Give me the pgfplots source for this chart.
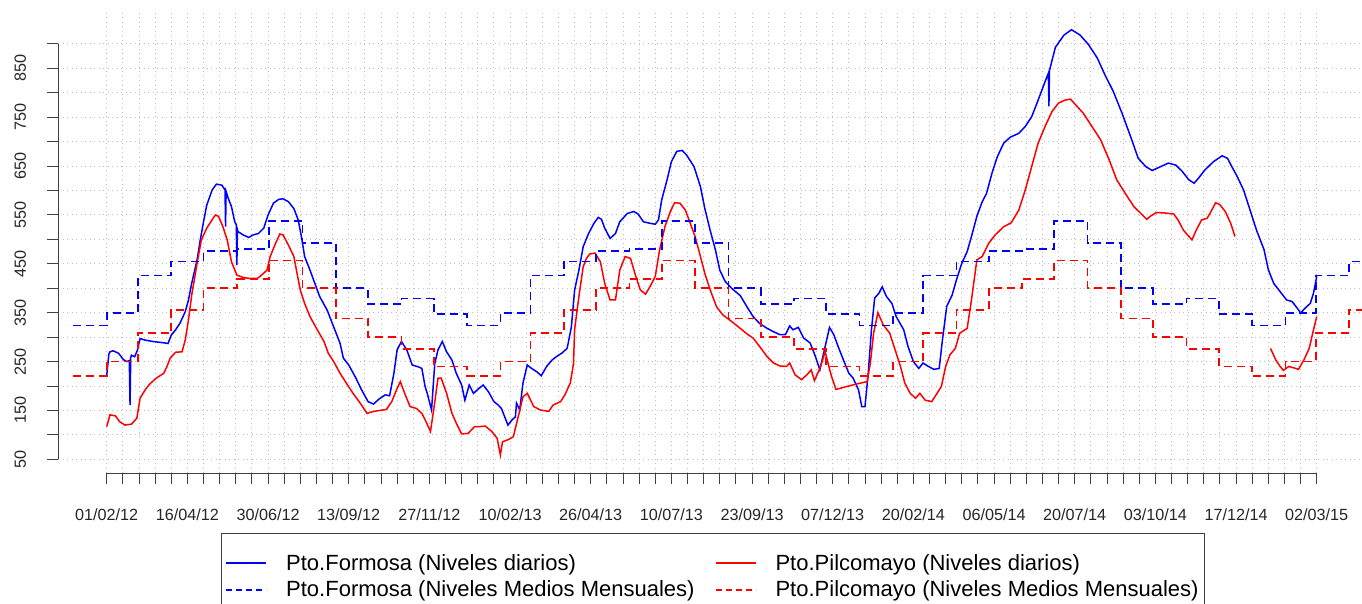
\documentclass[border=0pt]{standalone}
\usepackage{pgfplots}
\pgfplotsset{compat=1.18}
\usepackage{fontspec}
\setmainfont{Liberation Sans}
\begin{document}
\begin{tikzpicture}
\useasboundingbox (0,0) rectangle (1362pt,603pt);
\begin{axis}[
  at={(58pt,130pt)}, anchor=south west,
  scale only axis, width=1304pt, height=460pt,
  xmin=-45.3, xmax=1167.1, ymin=22, ymax=963.2,
  axis line style={draw=none},
  clip mode=individual,
  tick align=outside,
  major tick length=11pt,
  tick style={black!75, line width=0.9pt},
  xtick={0,15,...,1125},
  xticklabels={01/02/12,,,,,16/04/12,,,,,30/06/12,,,,,13/09/12,,,,,27/11/12,,,,,10/02/13,,,,,26/04/13,,,,,10/07/13,,,,,23/09/13,,,,,07/12/13,,,,,20/02/14,,,,,06/05/14,,,,,20/07/14,,,,,03/10/14,,,,,17/12/14,,,,,02/03/15},
  ytick={50,100,...,900},
  yticklabels={50,,150,,250,,350,,450,,550,,650,,750,,850,},
  xtick pos=bottom, ytick pos=left,
  grid=major,
  major grid style={black!25, line width=0.9pt, dash pattern=on 1pt off 3.5pt},
  xticklabel style={font=\fontsize{16.2}{19}\selectfont, text=black!85, anchor=base, inner sep=0pt, yshift=-36pt},
  yticklabel style={font=\fontsize{16.2}{19}\selectfont, text=black!85, xshift=-21pt, rotate=90, anchor=base, inner sep=0pt},
  legend columns=2,
  legend style={
    at={(0.1248,-0.1304)}, anchor=north west,
    draw=black!75, line width=0.9pt,
    font=\fontsize{22}{26}\selectfont,
    inner xsep=4pt, inner ysep=21pt,
    row sep=9pt,
    nodes={inner sep=0pt},
    /tikz/every odd column/.append style={column sep=19pt},
    /tikz/every even column/.append style={column sep=20pt},
    cells={anchor=west},
  },
]
% Pto.Formosa daily
\addplot[blue, line width=1.5pt,
  legend image code/.code={\draw[blue, line width=1.6pt] (0pt,0pt) -- (40pt,0pt);}] table[x=d, y=v] {
d v
0 222
2 265
3 270
6 272
11 267
15.5 254
18.6 250
21 252
21.7 161
22.3 258
23 263
26 260
28.5 273
31 297
35.6 294
43 291
51 289
57 287
60 304
64 315
68 328
73 352
76 376
79 410
84 458
87 499
90 536
93 570
98 601
102 613
107 611
110 601
110.5 526
111 598
113 584
116 567
119 536
120.5 530
121 448
121.5 520
122 516
127 509
132 504
136 509
141 512
146 523
150 550
155 574
160 582
164 583
169 577
174 563
178 540
181 506
184 465
189 437
194 407
198 383
205 355
211 321
217 287
220 257
225 243
231 219
237 192
243 168
248 163
253 173
259 182
263 180
267 226
270 274
274 291
279 274
284 243
290 239
293 236
296 199
298 185
302 151
305 246
308 274
312 291
316 270
321 253
325 226
330 202
333 171
337 202
341 185
346 195
350 202
355 188
360 168
364 161
367 154
370 137
373 120
377 131
380 137
381 165
384 151
387 206
391 243
395 236
400 229
404 221
409 240
414 253
418 260
423 267
428 277
429 287
432 321
435 396
439 437
443 485
448 512
453 533
457 545
460 541
463 523
468 502
473 512
477 536
484 553
490 557
494 552
499 536
505 533
510 531
513 540
516 581
521 622
525 659
530 680
535 682
539 673
546 649
552 608
556 564
561 519
566 478
570 437
575 414
581 400
589 385
595 363
601 342
607 328
614 318
620 311
626 305
631 305
635 323
638 315
643 320
648 298
654 288
659 260
663 233
668 281
672 320
676 305
680 281
685 253
690 226
694 216
699 192
702 158
705 158
708 226
711 315
714 380
718 390
721 403
725 383
730 369
734 342
741 315
745 281
750 250
755 236
759 247
764 240
769 234
774 236
777 294
781 363
786 386
790 417
795 451
800 475
804 506
809 547
814 577
818 594
823 635
828 669
834 697
840 709
848 717
854 731
860 751
866 785
873 826
875.5 840
876 772
876.5 845
879 867
882 893
890 918
897 929
905 918
913 898
921 871
928 837
936 802
944 758
952 710
959 666
966 649
972 641
980 649
987 656
994 652
1000 639
1006 622
1011 615
1015 625
1021 642
1029 659
1037 671
1042 666
1046 649
1051 629
1057 601
1063 560
1069 519
1076 479
1080 438
1085 410
1091 393
1097 376
1102 373
1107 359
1110 349
1114 359
1119 369
1122 390
1125 424
};
\addlegendentry{Pto.Formosa (Niveles diarios)}
% Pto.Pilcomayo daily
\addplot[red, line width=1.5pt, unbounded coords=jump,
  legend image code/.code={\draw[red, line width=1.6pt] (0pt,0pt) -- (40pt,0pt);}] table[x=d, y=v] {
d v
0 117
3 141
8 139
12 127
17 120
23 122
28 134
31 175
36 193
40 204
46 216
53 226
56 240
59 257
64 269
70 270
73 294
76 335
79 386
84 451
88 499
93 523
98 540
101 550
104 547
108 526
112 499
116 454
121 427
127 422
133 420
140 420
144 427
149 437
152 465
157 492
161 511
164 509
169 488
174 465
177 430
180 396
184 369
189 342
195 318
202 291
206 267
211 250
217 226
223 205
229 185
236 164
242 144
248 148
254 150
260 152
265 168
270 195
273 209
277 185
282 158
288 154
293 144
296 131
301 107
304 151
308 216
311 216
316 185
321 144
325 124
330 102
336 103
342 117
347 117
352 118
358 107
363 93
366 59
368 86
373 90
378 96
383 141
387 178
391 185
397 158
403 151
411 148
415 161
422 168
426 182
431 206
434 246
435 315
439 383
443 444
446 461
449 470
454 472
459 454
463 410
468 376
473 376
477 437
482 465
487 461
491 431
496 397
501 388
505 403
510 424
514 478
519 526
524 557
528 575
533 574
538 560
542 536
547 506
552 465
556 431
561 397
567 362
573 345
581 332
589 318
595 307
601 298
607 281
614 260
620 247
626 241
632 240
635 247
640 223
646 213
651 223
655 233
658 211
663 236
668 270
671 243
674 219
678 193
688 199
697 204
707 209
710 247
713 308
717 350
722 325
728 308
733 274
738 240
742 206
747 185
752 175
756 185
761 171
767 168
772 185
776 199
780 240
784 264
789 277
793 308
800 318
804 376
809 458
814 465
820 492
826 509
834 526
841 534
848 560
854 601
860 649
866 697
873 734
879 762
885 779
891 785
896 787
901 775
908 758
916 731
924 704
932 663
939 622
947 594
955 567
961 554
967 541
970 547
976 555
984 554
992 552
996 540
1001 519
1009 499
1013 519
1018 540
1023 543
1026 554
1031 575
1035 571
1040 557
1045 533
1049 506
1065 nan
1082 277
1087 253
1091 240
1094 232
1099 240
1104 237
1108 234
1113 253
1118 277
1122 315
1125 342
};
\addlegendentry{Pto.Pilcomayo (Niveles diarios)}
% Pto.Formosa monthly means
\addplot[blue, line width=1.7pt, const plot, dash pattern=on 8pt off 5pt,
  legend image code/.code={\draw[blue, line width=2pt, dash pattern=on 6pt off 4pt] (0pt,0pt) -- (40pt,0pt);}] table[x=d, y=v] {
d v
-31 324
0 350
29 426
60 455
90 476
121 480
151 538
182 493
213 400
243 368
274 379
304 348
335 324
366 350
394 426
425 455
455 476
486 480
516 538
547 493
578 400
608 368
639 379
669 348
700 324
731 350
759 426
790 455
820 476
851 480
881 538
912 493
943 400
973 368
1004 379
1034 348
1065 324
1096 350
1124 426
1155 455
1185 455
};
\addlegendentry{Pto.Formosa (Niveles Medios Mensuales)}
% Pto.Pilcomayo monthly means
\addplot[red, line width=1.7pt, const plot, dash pattern=on 8pt off 5pt,
  legend image code/.code={\draw[red, line width=2pt, dash pattern=on 6pt off 4pt] (0pt,0pt) -- (40pt,0pt);}] table[x=d, y=v] {
d v
-31 221
0 250
29 308
60 356
90 400
121 419
151 457
182 400
213 338
243 300
274 276
304 240
335 221
366 250
394 308
425 356
455 400
486 419
516 457
547 400
578 338
608 300
639 276
669 240
700 221
731 250
759 308
790 356
820 400
851 419
881 457
912 400
943 338
973 300
1004 276
1034 240
1065 221
1096 250
1124 308
1155 356
1185 356
};
\addlegendentry{Pto.Pilcomayo (Niveles Medios Mensuales)\hspace*{2pt}}
% axis lines (R style)
\draw[black!75, line width=0.9pt] (axis cs:-45.3,50) -- (axis cs:-45.3,900);
\draw[black!75, line width=0.9pt] (axis cs:0,22) -- (axis cs:1125,22);
\end{axis}
\end{tikzpicture}
\end{document}
